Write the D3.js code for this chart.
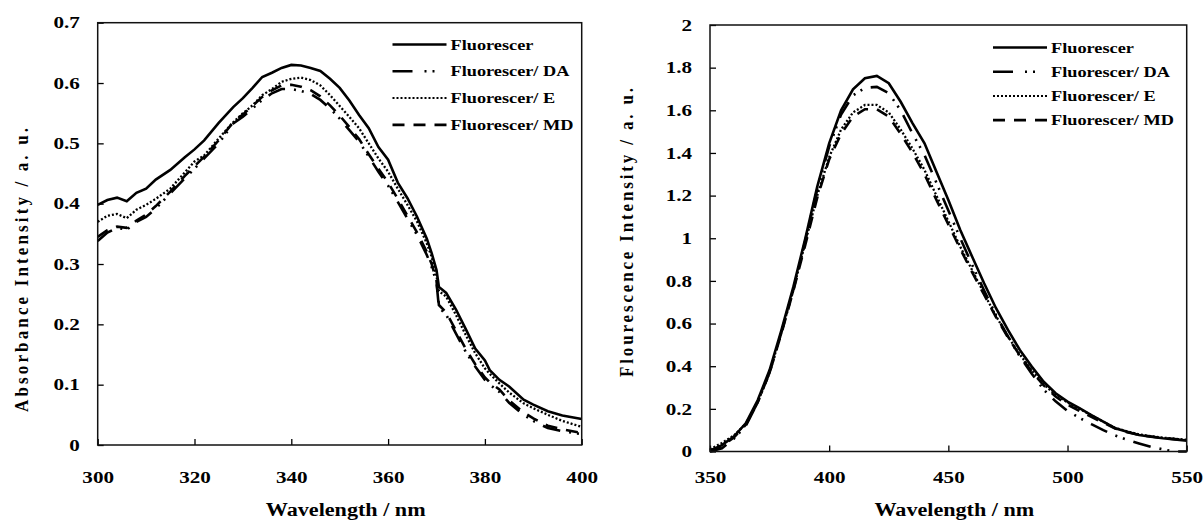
<!DOCTYPE html>
<html>
<head>
<meta charset="utf-8">
<script src="https://cdn.jsdelivr.net/npm/d3@7"></script>
<style>
  body { margin: 0; background: #fff; }
  text { font-family: "Liberation Serif", "Times New Roman", serif; font-weight: bold; fill: #000; }
</style>
</head>
<body>
<svg id="chart" width="1204" height="522" font-family="Liberation Serif"></svg>
<script>
// ---- left panel: absorbance ----
const absWl = [300,302,304,306,308,310,312,315,318,320,322,325,328,330,332,334,336,338,340,342,344,346,348,350,352,354,356,358,360,362,364,366,368,369,370,370.5,372,374,376,378,380,381,383,385,388,390,393,396,400];
const absF  = [.398,.406,.410,.404,.418,.425,.440,.456,.477,.490,.505,.534,.560,.575,.592,.610,.617,.625,.630,.629,.625,.620,.607,.592,.571,.547,.525,.494,.473,.435,.409,.378,.342,.318,.290,.262,.252,.225,.193,.160,.140,.124,.108,.097,.075,.067,.056,.049,.043];
const absDA = [.338,.352,.360,.357,.370,.378,.392,.417,.442,.458,.475,.500,.533,.544,.558,.572,.583,.590,.590,.587,.582,.572,.558,.541,.522,.503,.478,.453,.430,.403,.375,.348,.315,.295,.270,.228,.216,.185,.155,.130,.108,.100,.088,.070,.050,.040,.028,.023,.018];
const absE  = [.370,.380,.383,.376,.390,.398,.408,.425,.452,.470,.480,.508,.535,.550,.563,.580,.590,.602,.607,.609,.605,.596,.580,.562,.544,.525,.500,.475,.453,.425,.398,.370,.334,.312,.280,.255,.246,.216,.183,.152,.127,.118,.102,.087,.069,.061,.050,.040,.030];
const absMD = [.345,.356,.362,.360,.372,.382,.396,.420,.446,.462,.478,.505,.535,.548,.562,.577,.588,.596,.597,.594,.588,.578,.563,.546,.527,.507,.482,.458,.435,.408,.380,.352,.320,.300,.272,.232,.220,.190,.160,.134,.112,.104,.092,.074,.054,.044,.032,.026,.020];
const absXTicks = [300,320,340,360,380,400];
const absYTicks = [0,0.1,0.2,0.3,0.4,0.5,0.6,0.7];
const absYLabels = ["0","0.1","0.2","0.3","0.4","0.5","0.6","0.7"];

// ---- right panel: fluorescence ----
const flWl = [350,355,360,365,370,375,380,385,390,395,400,405,410,415,420,425,430,435,440,445,450,455,460,465,470,475,480,485,490,495,500,505,510,515,520,525,530,535,540,545,550];
const flF  = [.004,.03,.07,.132,.24,.382,.57,.773,1.0,1.242,1.445,1.60,1.698,1.75,1.761,1.727,1.64,1.539,1.445,1.312,1.179,1.039,.913,.789,.672,.57,.476,.398,.327,.273,.234,.203,.171,.14,.109,.093,.077,.069,.062,.057,.051];
const flDA = [0,.015,.06,.12,.23,.37,.56,.76,.99,1.23,1.43,1.58,1.67,1.705,1.71,1.68,1.60,1.49,1.39,1.26,1.13,1.0,.875,.755,.64,.54,.445,.365,.29,.235,.19,.158,.128,.10,.075,.055,.038,.022,.01,0,0];
const flE  = [.01,.04,.075,.13,.23,.37,.56,.76,.98,1.2,1.38,1.51,1.59,1.625,1.625,1.59,1.51,1.42,1.32,1.2,1.08,.96,.85,.74,.635,.54,.455,.38,.315,.265,.23,.2,.17,.14,.11,.095,.08,.072,.065,.06,.055];
const flMD = [.005,.025,.065,.125,.23,.37,.555,.755,.97,1.19,1.37,1.49,1.57,1.605,1.605,1.57,1.49,1.40,1.30,1.18,1.065,.95,.84,.735,.63,.535,.45,.375,.31,.258,.22,.19,.162,.135,.108,.09,.078,.07,.063,.058,.053];
const flXTicks = [350,400,450,500,550];
const flYTicks = [0,0.2,0.4,0.6,0.8,1,1.2,1.4,1.6,1.8,2];
const flYLabels = ["0","0.2","0.4","0.6","0.8","1","1.2","1.4","1.6","1.8","2"];

const seriesNames = ["Fluorescer","Fluorescer/ DA","Fluorescer/ E","Fluorescer/ MD"];
const dashes = [null, "18,9,2,6,2,9", "2,2", "12,9"];
const legendDashes = [null, "20,12,2,6,2,12", "2,2", "12,9"];
const FONT = "Liberation Serif, Times New Roman, serif";

const svg = d3.select("#chart");

function panel(opt) {
    const x = d3.scaleLinear().domain(opt.xDomain).range(opt.xRange);
    const y = d3.scaleLinear().domain(opt.yDomain).range(opt.yRange);
    const g = svg.append("g");

    // curves
    const line = d3.line().x(d => x(d[0])).y(d => y(d[1]));
    opt.series.forEach((s, i) => {
        g.append("path")
            .datum(opt.wl.map((w, j) => [w, s[j]]))
            .attr("fill", "none")
            .attr("stroke", "#000")
            .attr("stroke-width", i == 2 ? 2.3 : 2.6)
            .attr("stroke-dasharray", dashes[i])
            .attr("d", line);
    });

    // axes, ticks inward
    const xAxis = d3.axisBottom(x).tickValues(opt.xTicks).tickFormat(d3.format("d"))
        .tickSizeInner(-6).tickSizeOuter(0).tickPadding(opt.xPad);
    const yAxis = d3.axisLeft(y).tickValues(opt.yTicks).tickFormat((d, i) => opt.yLabels[i])
        .tickSizeInner(-6).tickSizeOuter(0).tickPadding(14);
    const xg = g.append("g").attr("transform", `translate(0,${opt.yRange[0]})`).call(xAxis);
    const yg = g.append("g").attr("transform", `translate(${opt.xRange[0]},0)`).call(yAxis);
    [xg, yg].forEach(a => {
        a.attr("font-family", FONT);
        a.select(".domain").remove();
        a.selectAll(".tick line").attr("stroke", "#000").attr("stroke-width", 1.3);
        a.selectAll(".tick text").attr("font-size", 16.5)
            .attr("transform", "scale(1.28,1)");
    });

    // frame
    g.append("rect")
        .attr("x", opt.xRange[0]).attr("y", opt.yRange[1])
        .attr("width", opt.xRange[1] - opt.xRange[0])
        .attr("height", opt.yRange[0] - opt.yRange[1])
        .attr("fill", "none").attr("stroke", "#111").attr("stroke-width", 1.5);

    // axis titles
    const cx = (opt.xRange[0] + opt.xRange[1]) / 2 + 6;
    g.append("text")
        .attr("transform", `translate(${cx},516) scale(1.23,1)`)
        .attr("text-anchor", "middle").attr("font-size", 18)
        .text("Wavelength / nm");
    g.append("text")
        .attr("transform", `translate(${opt.yTitleX},${opt.yTitleY}) scale(1.15,1) rotate(-90)`)
        .attr("text-anchor", "middle").attr("font-size", 17)
        .attr("textLength", opt.yTitleLen).attr("lengthAdjust", "spacing")
        .text(opt.yTitle);

    // legend
    const lg = g.append("g");
    seriesNames.forEach((n, i) => {
        const ly = opt.legY + i * opt.legStep;
        lg.append("line")
            .attr("x1", opt.legX).attr("x2", opt.legX + 54)
            .attr("y1", ly).attr("y2", ly)
            .attr("stroke", "#000").attr("stroke-width", i == 2 ? 2 : 2.6)
            .attr("stroke-dasharray", legendDashes[i]);
        lg.append("text")
            .attr("transform", `translate(${opt.legX + 58},${ly + 5}) scale(1.18,1)`)
            .attr("font-size", 15.5)
            .text(n);
    });
}

panel({
    wl: absWl, series: [absF, absDA, absE, absMD],
    xDomain: [300, 400], xRange: [97.7, 581.7],
    yDomain: [0, 0.7], yRange: [445, 22.7],
    xTicks: absXTicks, yTicks: absYTicks, yLabels: absYLabels, xPad: 26,
    yTitle: "Absorbance Intensity / a. u.", yTitleX: 28, yTitleY: 270, yTitleLen: 284,
    legX: 392.5, legY: 44.5, legStep: 26.8
});

panel({
    wl: flWl, series: [flF, flDA, flE, flMD],
    xDomain: [350, 550], xRange: [710, 1186.7],
    yDomain: [0, 2], yRange: [451.5, 25],
    xTicks: flXTicks, yTicks: flYTicks, yLabels: flYLabels, xPad: 20,
    yTitle: "Flourescence Intensity / a. u.", yTitleX: 633, yTitleY: 232.5, yTitleLen: 289,
    legX: 993, legY: 47.5, legStep: 24.2
});
</script>
</body>
</html>
